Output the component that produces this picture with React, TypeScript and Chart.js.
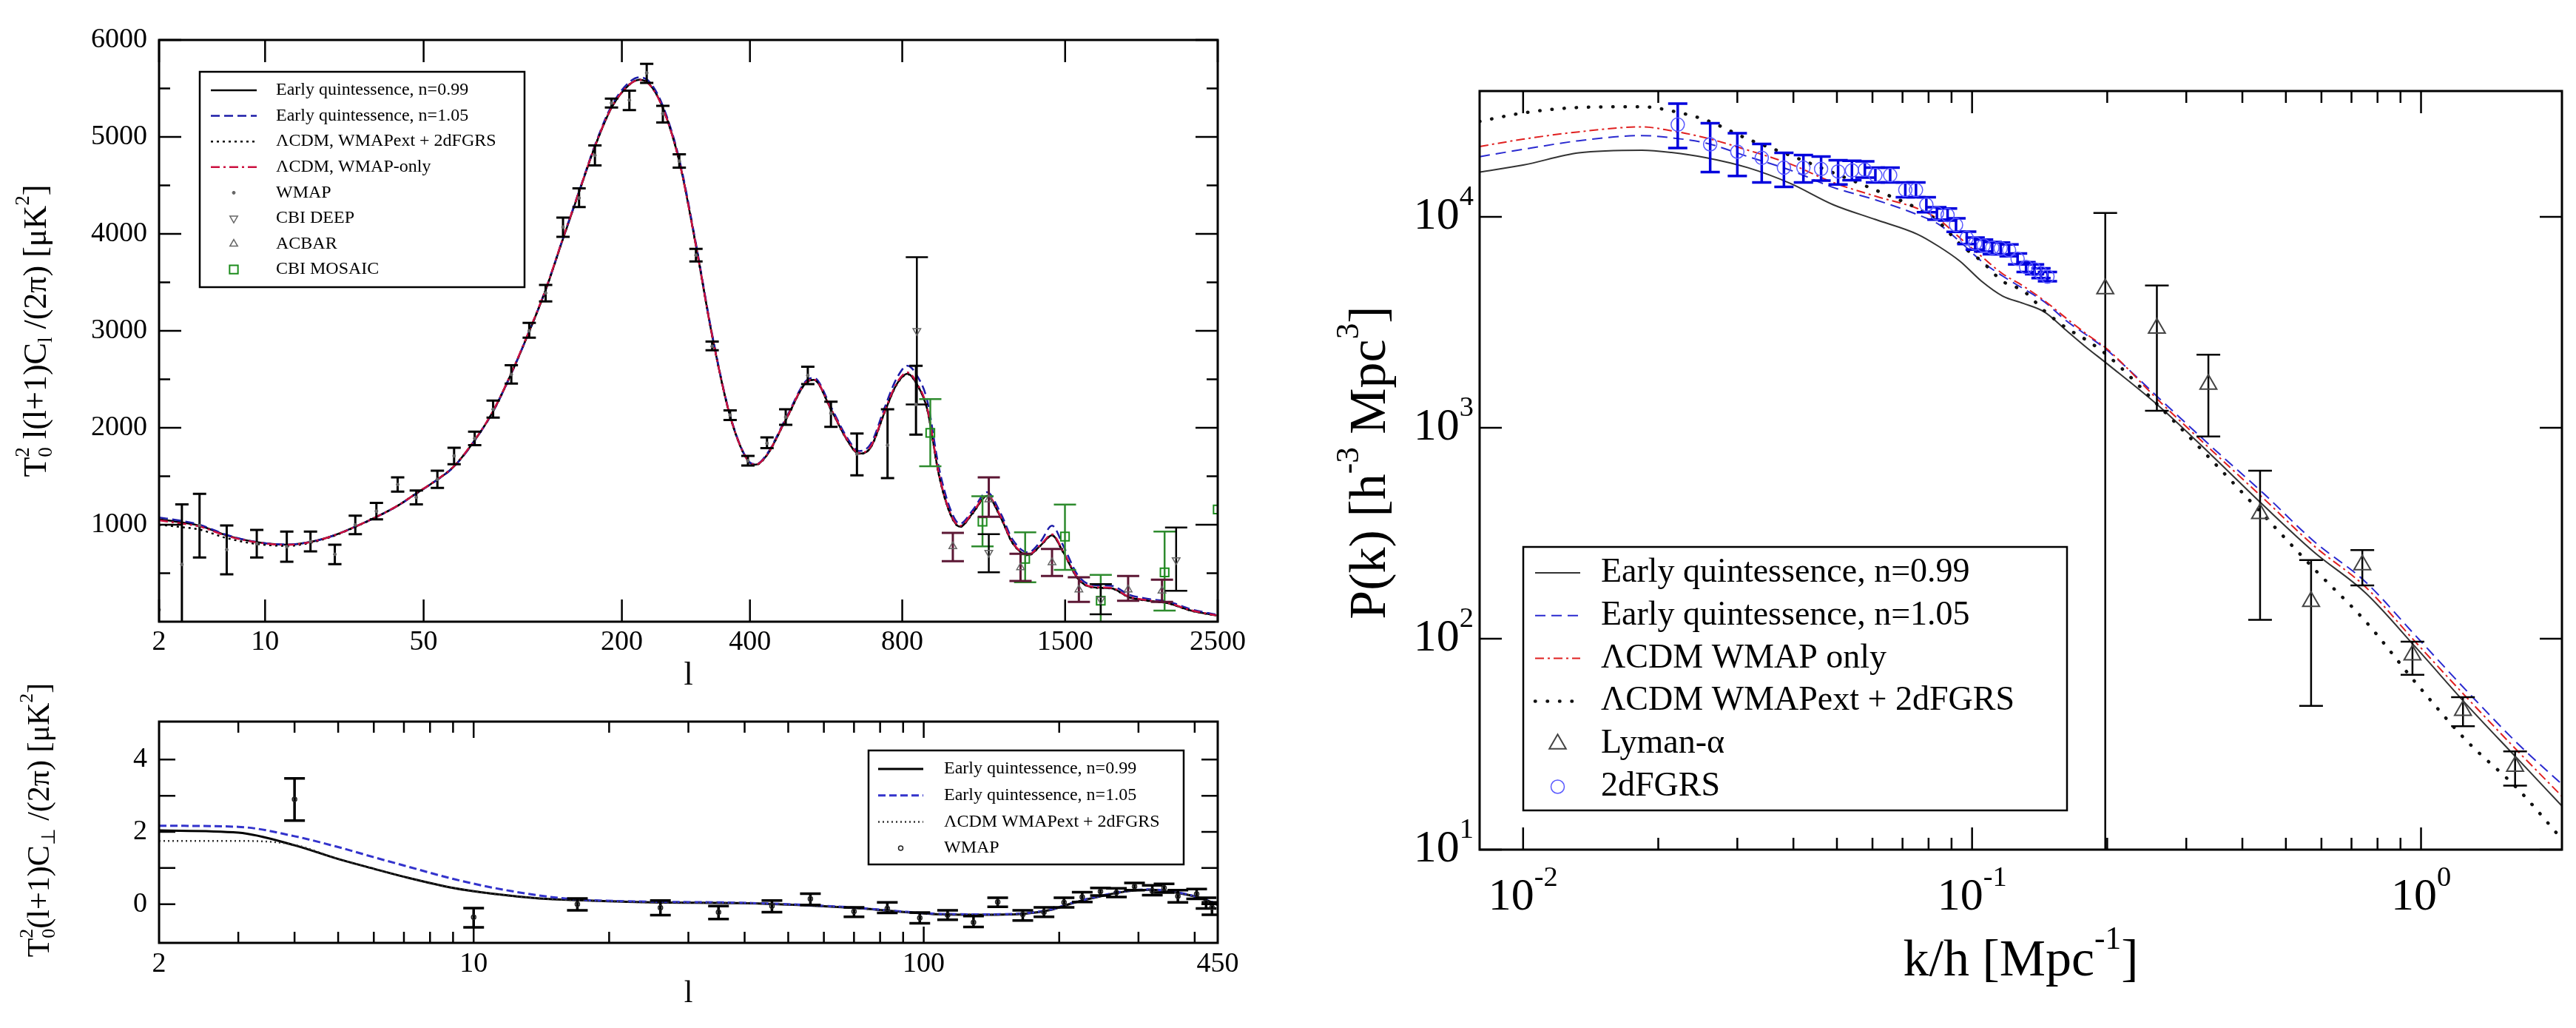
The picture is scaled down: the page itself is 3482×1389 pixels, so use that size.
import { useEffect, useRef } from "react"
import { Chart, Scale, registerables } from "chart.js"

Chart.register(...registerables)

const SERIF = '"Liberation Serif", "Times New Roman", serif'

// ---------- top left: temperature spectrum ----------
const ttTickL = [2, 10, 50, 200, 400, 800, 1500, 2500]
const ttTickY = [1000, 2000, 3000, 4000, 5000, 6000]
const ttMinorY = [500, 1500, 2500, 3500, 4500, 5500]

const modelL = [2, 3, 4, 6, 9, 13, 17, 22, 27, 33, 40, 47, 55, 64, 75, 86, 98, 110, 124, 139, 154, 170, 188, 209, 222, 235, 253, 277, 303, 330, 362, 396, 412, 435, 476, 528, 543, 587, 630, 665, 700, 743, 780, 818, 850, 887, 929, 972, 1011, 1063, 1123, 1185, 1237, 1312, 1374, 1431, 1491, 1569, 1648, 1765, 1871, 1998, 2132, 2297, 2490]
const eq099TT = [1056, 1023, 990, 890, 820, 794, 822, 893, 980, 1081, 1196, 1323, 1450, 1603, 1870, 2170, 2560, 2960, 3420, 3950, 4430, 4900, 5300, 5540, 5590, 5540, 5300, 4750, 3880, 2950, 2120, 1660, 1620, 1720, 2080, 2480, 2494, 2190, 1880, 1733, 1800, 2163, 2440, 2557, 2450, 2190, 1527, 1120, 980, 1120, 1298, 1068, 814, 687, 789, 891, 712, 445, 356, 343, 254, 216, 191, 115, 64]
const eq105TT = [1075, 1040, 1000, 895, 822, 795, 822, 893, 980, 1080, 1195, 1320, 1448, 1600, 1868, 2168, 2560, 2962, 3425, 3958, 4440, 4915, 5320, 5565, 5615, 5565, 5320, 4770, 3900, 2965, 2130, 1665, 1625, 1730, 2095, 2500, 2515, 2215, 1905, 1760, 1835, 2210, 2500, 2640, 2540, 2280, 1600, 1170, 1010, 1150, 1335, 1110, 850, 715, 830, 990, 780, 480, 380, 370, 280, 235, 208, 128, 72]
const lcdmExtTT = [1000, 975, 950, 862, 802, 782, 814, 888, 977, 1080, 1196, 1324, 1451, 1605, 1872, 2172, 2562, 2962, 3422, 3952, 4432, 4902, 5300, 5540, 5590, 5540, 5298, 4748, 3878, 2948, 2118, 1658, 1618, 1718, 2078, 2478, 2492, 2188, 1878, 1731, 1798, 2160, 2436, 2552, 2446, 2186, 1522, 1116, 977, 1116, 1294, 1064, 811, 684, 786, 888, 709, 443, 354, 341, 252, 214, 189, 113, 62]
const lcdmWmapTT = [1045, 1012, 982, 885, 818, 793, 821, 893, 980, 1081, 1197, 1325, 1452, 1606, 1874, 2175, 2566, 2968, 3428, 3958, 4436, 4904, 5302, 5540, 5588, 5536, 5295, 4745, 3878, 2950, 2122, 1662, 1622, 1722, 2083, 2484, 2497, 2195, 1886, 1740, 1808, 2172, 2452, 2570, 2462, 2200, 1535, 1128, 988, 1128, 1306, 1076, 820, 693, 796, 900, 720, 450, 360, 348, 258, 220, 194, 118, 66]

const wmapL = [2, 3, 4, 6, 9, 13, 17, 22, 27, 33, 40, 47, 56, 64, 75, 86, 98, 111, 124, 139, 154, 170, 188, 209, 231, 253, 277, 303, 330, 362, 396, 435, 476, 528, 587, 659, 752, 847]
const wmapTT = [123, 590, 992, 743, 804, 773, 827, 695, 998, 1140, 1415, 1282, 1468, 1710, 1890, 2190, 2550, 3000, 3390, 4070, 4370, 4810, 5350, 5380, 5660, 5240, 4750, 3780, 2840, 2130, 1660, 1840, 2110, 2540, 2150, 1730, 1820, 2240]
const wmapLo = [123, -50, 662, 489, 662, 618, 725, 593, 903, 1056, 1341, 1209, 1379, 1624, 1820, 2105, 2456, 2930, 3303, 3969, 4276, 4706, 5303, 5276, 5557, 5149, 4684, 3715, 2800, 2080, 1610, 1790, 2030, 2450, 2010, 1510, 1480, 1930]
const wmapHi = [123, 1209, 1318, 992, 947, 929, 929, 794, 1094, 1225, 1489, 1353, 1557, 1794, 1960, 2280, 2645, 3083, 3474, 4167, 4469, 4912, 5395, 5478, 5754, 5320, 4820, 3846, 2890, 2180, 1710, 1900, 2190, 2630, 2270, 1940, 2190, 2640]

const cbiL = [850, 1131, 1700, 2189]
const cbiTT = [3000, 712, 229, 636]
const cbiLo = [2240, 509, 76, 318]
const cbiHi = [3760, 903, 387, 972]

const acbarL = [983, 1131, 1275, 1431, 1575, 1867, 2090]
const acbarTT = [776, 1260, 560, 611, 331, 331, 318]
const acbarLo = [624, 1082, 420, 471, 204, 216, 204]
const acbarHi = [916, 1489, 700, 750, 458, 471, 433]

const mosaicL = [898, 1104, 1297, 1499, 1700, 2108, 2500]
const mosaicTT = [1947, 1031, 649, 878, 216, 509, 1158]
const mosaicLo = [1603, 776, 407, 534, -100, 115, 1158]
const mosaicHi = [2295, 1293, 921, 1208, 483, 929, 1158]

// ---------- bottom left: TE spectrum ----------
const teTickL = [2, 10, 100, 450]
const teMajorL = [10, 100]
const teMinorL = [3, 4, 5, 6, 7, 8, 9, 20, 30, 40, 50, 60, 70, 80, 90, 200, 300, 400]
const teTickY = [0, 2, 4]
const teAllY = [0, 1, 2, 3, 4]

const teModelL = [2, 3, 4, 5, 6, 7, 9, 11, 14, 17, 25, 39, 59, 73, 89, 110, 136, 168, 191, 217, 247, 280, 316, 342, 389, 423, 450]
const eq099TE = [2.04, 1.98, 1.63, 1.25, 0.98, 0.76, 0.45, 0.29, 0.16, 0.11, 0.05, 0.03, -0.05, -0.12, -0.21, -0.28, -0.29, -0.26, -0.16, 0.05, 0.22, 0.35, 0.4, 0.37, 0.25, 0.12, -0.02]
const eq105TE = [2.17, 2.14, 1.88, 1.58, 1.3, 1.07, 0.7, 0.46, 0.24, 0.13, 0.07, 0.04, -0.04, -0.11, -0.2, -0.27, -0.28, -0.25, -0.15, 0.06, 0.23, 0.36, 0.41, 0.38, 0.26, 0.13, -0.01]
const lcdmExtTE = [1.75, 1.75, 1.64, 1.25, 0.98, 0.76, 0.45, 0.29, 0.16, 0.11, 0.05, 0.03, -0.05, -0.12, -0.21, -0.28, -0.29, -0.26, -0.16, 0.05, 0.22, 0.35, 0.4, 0.37, 0.25, 0.12, -0.02]

const wmapTeL = [4, 10, 17, 26, 35, 46, 56, 70, 83, 98, 113, 129, 146, 166, 185, 205, 225, 247, 268, 294, 322, 342, 367, 404, 424, 437]
const wmapTE = [2.9, -0.36, 0, -0.1, -0.22, -0.05, 0.15, -0.2, -0.12, -0.38, -0.3, -0.5, 0.06, -0.28, -0.22, 0.05, 0.2, 0.35, 0.32, 0.49, 0.37, 0.45, 0.22, 0.28, 0.05, -0.09]
const wmapTeLo = [2.31, -0.64, -0.17, -0.3, -0.41, -0.22, -0.02, -0.35, -0.24, -0.53, -0.43, -0.63, -0.07, -0.45, -0.35, -0.09, 0.06, 0.24, 0.2, 0.39, 0.25, 0.32, 0.05, 0.15, -0.12, -0.29]
const wmapTeHi = [3.48, -0.11, 0.16, 0.1, -0.05, 0.1, 0.29, -0.09, 0.05, -0.23, -0.17, -0.33, 0.18, -0.17, -0.09, 0.18, 0.33, 0.45, 0.44, 0.59, 0.52, 0.56, 0.39, 0.42, 0.18, 0.05]

// ---------- right: matter power spectrum ----------
const pkMajorK = [0.01, 0.1, 1]
const pkMinorK = [0.02, 0.03, 0.04, 0.05, 0.06, 0.07, 0.08, 0.09, 0.2, 0.3, 0.4, 0.5, 0.6, 0.7, 0.8, 0.9]
const pkKExp = ["-2", "-1", "0"]
const pkTickP = [10, 100, 1000, 10000]
const pkPExp = ["1", "2", "3", "4"]

const pkK = [0.008, 0.01, 0.0133, 0.0184, 0.0214, 0.0255, 0.0317, 0.0394, 0.049, 0.0609, 0.0756, 0.0843, 0.094, 0.105, 0.117, 0.13, 0.145, 0.162, 0.18, 0.2, 0.261, 0.34, 0.446, 0.577, 0.752, 0.974, 1.26, 1.65, 2.06]
const eq099P = [16300, 17600, 20100, 20700, 20200, 19100, 17100, 14400, 11430, 9720, 8270, 7240, 6160, 4950, 4210, 3890, 3540, 2900, 2400, 2010, 1265, 748, 428, 258, 165, 90.8, 49, 26.6, 16.1]
const eq105P = [19300, 20900, 22960, 24300, 23700, 22400, 19300, 16640, 13800, 12050, 10240, 9220, 7630, 6160, 5240, 4570, 3950, 3220, 2750, 2330, 1380, 820, 488, 290, 186, 103, 57, 31.5, 20.4]
const lcdmWmapP = [21550, 23350, 25300, 26700, 25600, 23700, 20700, 17800, 14560, 12540, 10950, 9720, 7940, 6490, 5370, 4700, 4000, 3310, 2780, 2360, 1340, 790, 462, 276, 176, 96, 53, 29, 17.9]
const lcdmExtP = [28360, 31100, 33000, 33300, 31800, 28800, 23350, 19550, 16200, 13400, 10950, 9450, 7420, 6160, 4950, 4460, 3580, 2980, 2600, 2210, 1265, 710, 385, 215, 121, 61.7, 33, 19.2, 11.2]

const lyaK = [0.198, 0.258, 0.336, 0.438, 0.569, 0.74, 0.957, 1.24, 1.62]
const lyaP = [4560, 2965, 1607, 392, 150, 224, 83.8, 45.7, 24.8]
const lyaLo = [3, 1205, 910, 123, 48, 179, 67.5, 38.5, 20.1]
const lyaHi = [10440, 4730, 2220, 626, 236, 263, 96.8, 52.8, 29.2]

const dfK = [0.0221, 0.0261, 0.03, 0.034, 0.0381, 0.0421, 0.0461, 0.0503, 0.054, 0.0577, 0.0609, 0.0657, 0.071, 0.075, 0.0791, 0.0835, 0.0882, 0.0921, 0.0973, 0.1016, 0.1061, 0.1109, 0.1158, 0.1209, 0.1263, 0.1319, 0.1378, 0.1424, 0.1472]
const dfP = [27390, 22080, 20360, 19040, 17100, 17100, 16870, 16420, 16600, 16730, 15780, 15780, 13420, 13420, 11420, 10390, 10200, 9160, 7940, 7480, 7310, 7130, 7080, 6950, 6320, 5790, 5640, 5410, 5210]
const dfLo = [21200, 16300, 15640, 14550, 13870, 14550, 14860, 14230, 14930, 15350, 14550, 14550, 12380, 12380, 10530, 9710, 9600, 8500, 7430, 7000, 6850, 6650, 6650, 6500, 5950, 5480, 5350, 5130, 4950]
const dfHi = [34440, 27770, 24920, 22180, 20100, 19640, 19310, 18540, 18450, 18320, 17100, 17100, 14550, 14550, 12380, 11110, 10950, 9840, 8510, 7980, 7800, 7600, 7550, 7400, 6700, 6100, 5950, 5700, 5480]

// x axis of the TT panel is spaced as l^(1/4)
class QuarticRootScale extends Scale {
  static id = "quarticRoot"
  static defaults = {}
  declare _lo: number
  declare _span: number

  determineDataLimits() {
    this.min = (this.options as any).min
    this.max = (this.options as any).max
  }
  buildTicks() {
    return ttTickL.map((value) => ({ value }))
  }
  getLabelForValue(value: number) {
    return String(value)
  }
  configure() {
    super.configure()
    this._lo = Math.pow(this.min, 0.25)
    this._span = Math.pow(this.max, 0.25) - this._lo
  }
  getPixelForValue(value: number) {
    return this.getPixelForDecimal((Math.pow(value, 0.25) - this._lo) / this._span)
  }
  getValueForPixel(pixel: number) {
    return Math.pow(this._lo + this.getDecimalForPixel(pixel) * this._span, 4)
  }
}
Chart.register(QuarticRootScale)

type Seg = { t: string; sub?: string; sup?: string }

function richWidth(ctx: CanvasRenderingContext2D, segs: Seg[], size: number) {
  let w = 0
  for (const s of segs) {
    ctx.font = `${size}px ${SERIF}`
    w += ctx.measureText(s.t).width
    if (s.sub || s.sup) {
      ctx.font = `${size * 0.62}px ${SERIF}`
      w += Math.max(s.sub ? ctx.measureText(s.sub).width : 0, s.sup ? ctx.measureText(s.sup).width : 0)
    }
  }
  return w
}

function drawRich(ctx: CanvasRenderingContext2D, segs: Seg[], x: number, y: number, size: number, align: string, angle = 0) {
  ctx.save()
  ctx.translate(x, y)
  if (angle) ctx.rotate(angle)
  const w = richWidth(ctx, segs, size)
  let cx = align === "left" ? 0 : align === "center" ? -w / 2 : -w
  ctx.textBaseline = "middle"
  ctx.textAlign = "left"
  ctx.fillStyle = "#000"
  for (const s of segs) {
    ctx.font = `${size}px ${SERIF}`
    ctx.fillText(s.t, cx, 0)
    cx += ctx.measureText(s.t).width
    if (s.sub || s.sup) {
      ctx.font = `${size * 0.62}px ${SERIF}`
      let adv = 0
      if (s.sup) {
        ctx.fillText(s.sup, cx, -size * 0.42)
        adv = ctx.measureText(s.sup).width
      }
      if (s.sub) {
        ctx.fillText(s.sub, cx, size * 0.3)
        adv = Math.max(adv, ctx.measureText(s.sub).width)
      }
      cx += adv
    }
  }
  ctx.restore()
}

function drawMarker(ctx: CanvasRenderingContext2D, style: string, rotation: number, r: number, x: number, y: number) {
  ctx.beginPath()
  if (style === "circle") {
    ctx.arc(x, y, r, 0, Math.PI * 2)
  } else if (style === "rect") {
    const h = r * Math.SQRT1_2
    ctx.rect(x - h, y - h, 2 * h, 2 * h)
  } else {
    let a = ((rotation || 0) * Math.PI) / 180
    ctx.moveTo(x + Math.sin(a) * r, y - Math.cos(a) * r)
    a += (2 * Math.PI) / 3
    ctx.lineTo(x + Math.sin(a) * r, y - Math.cos(a) * r)
    a += (2 * Math.PI) / 3
    ctx.lineTo(x + Math.sin(a) * r, y - Math.cos(a) * r)
    ctx.closePath()
  }
}

// error bars are drawn just before the markers of their dataset
const errorBars = {
  id: "errorBars",
  beforeDatasetDraw(chart: any, args: any) {
    const ds = chart.data.datasets[args.index]
    if (!ds.errLo) return
    const { ctx, chartArea: a } = chart
    const xs = chart.scales.x
    const ys = chart.scales.y
    ctx.save()
    ctx.beginPath()
    ctx.rect(a.left, a.top, a.right - a.left, a.bottom - a.top)
    ctx.clip()
    ctx.strokeStyle = ds.errColor
    ctx.lineWidth = ds.errWidth
    ds.data.forEach((p: any, i: number) => {
      const lo = ds.errLo[i]
      const hi = ds.errHi[i]
      if (lo === hi) return
      const px = xs.getPixelForValue(p.x)
      const y1 = ys.getPixelForValue(lo)
      const y2 = ys.getPixelForValue(hi)
      ctx.beginPath()
      ctx.moveTo(px, y1)
      ctx.lineTo(px, y2)
      ctx.moveTo(px - ds.cap, y1)
      ctx.lineTo(px + ds.cap, y1)
      ctx.moveTo(px - ds.cap, y2)
      ctx.lineTo(px + ds.cap, y2)
      ctx.stroke()
    })
    ctx.restore()
  },
}

interface Decor {
  xMajor: number[]
  xMinor: number[]
  yMajor: number[]
  yMinor: number[]
  majorLen: number
  minorLen: number
  frame: number
  xLabelVals: number[]
  xLabels: Seg[][]
  yLabelVals: number[]
  yLabels: Seg[][]
  tickSize: number
  xLabelDy: number
  yLabelDx: number
  xTitle: Seg[]
  xTitleDy: number
  yTitle: Seg[]
  yTitleX: number
  yTitleY: number
  titleSize: number
  legend: { x: number; y: number; w: number; h: number; row0: number; rowH: number; s0: number; s1: number; tx: number; size: number }
}

function makeDecor(d: Decor) {
  return {
    id: "decor",
    afterDraw(chart: any) {
      const { ctx, chartArea: a } = chart
      const xs = chart.scales.x
      const ys = chart.scales.y
      ctx.save()
      ctx.strokeStyle = "#000"
      ctx.lineWidth = 2.5
      const xTicks = (vals: number[], len: number) =>
        vals.forEach((v) => {
          const px = xs.getPixelForValue(v)
          ctx.beginPath()
          ctx.moveTo(px, a.bottom)
          ctx.lineTo(px, a.bottom - len)
          ctx.moveTo(px, a.top)
          ctx.lineTo(px, a.top + len)
          ctx.stroke()
        })
      const yTicks = (vals: number[], len: number) =>
        vals.forEach((v) => {
          const py = ys.getPixelForValue(v)
          ctx.beginPath()
          ctx.moveTo(a.left, py)
          ctx.lineTo(a.left + len, py)
          ctx.moveTo(a.right, py)
          ctx.lineTo(a.right - len, py)
          ctx.stroke()
        })
      xTicks(d.xMajor, d.majorLen)
      xTicks(d.xMinor, d.minorLen)
      yTicks(d.yMajor, d.majorLen)
      yTicks(d.yMinor, d.minorLen)
      ctx.lineWidth = d.frame
      ctx.strokeRect(a.left, a.top, a.right - a.left, a.bottom - a.top)

      d.xLabelVals.forEach((v, i) => drawRich(ctx, d.xLabels[i], xs.getPixelForValue(v), a.bottom + d.xLabelDy, d.tickSize, "center"))
      d.yLabelVals.forEach((v, i) => drawRich(ctx, d.yLabels[i], a.left - d.yLabelDx, ys.getPixelForValue(v), d.tickSize, "right"))
      drawRich(ctx, d.xTitle, (a.left + a.right) / 2, a.bottom + d.xTitleDy, d.titleSize, "center")
      drawRich(ctx, d.yTitle, d.yTitleX, d.yTitleY, d.titleSize, "center", -Math.PI / 2)

      // legend box
      const lg = d.legend
      ctx.fillStyle = "#fff"
      ctx.fillRect(lg.x, lg.y, lg.w, lg.h)
      ctx.lineWidth = 2.5
      ctx.strokeStyle = "#000"
      ctx.strokeRect(lg.x, lg.y, lg.w, lg.h)
      chart.data.datasets.forEach((ds: any, i: number) => {
        const cy = lg.y + lg.row0 + i * lg.rowH
        ctx.save()
        if (ds.showLine !== false) {
          ctx.strokeStyle = ds.borderColor
          ctx.lineWidth = ds.borderWidth
          ctx.setLineDash(ds.borderDash || [])
          ctx.lineCap = ds.borderCapStyle || "butt"
          ctx.beginPath()
          ctx.moveTo(lg.x + lg.s0, cy)
          ctx.lineTo(lg.x + lg.s1, cy)
          ctx.stroke()
        } else {
          ctx.strokeStyle = ds.pointBorderColor
          ctx.fillStyle = ds.pointBackgroundColor
          ctx.lineWidth = ds.pointBorderWidth
          drawMarker(ctx, ds.pointStyle, ds.pointRotation || 0, ds.pointRadius, lg.x + (lg.s0 + lg.s1) / 2, cy)
          ctx.fill()
          ctx.stroke()
        }
        ctx.restore()
        drawRich(ctx, [{ t: ds.label }], lg.x + lg.tx, cy, lg.size, "left")
      })
      ctx.restore()
    },
  }
}

function curve(label: string, xs: number[], ys: number[], color: string, width: number, dash: number[], order: number, extra: any = {}) {
  return {
    label,
    data: xs.map((x, i) => ({ x, y: ys[i] })),
    borderColor: color,
    borderWidth: width,
    borderDash: dash,
    pointRadius: 0,
    fill: false,
    cubicInterpolationMode: "monotone",
    order,
    ...extra,
  }
}

function marks(label: string, xs: number[], ys: number[], lo: number[], hi: number[], m: any) {
  return {
    label,
    data: xs.map((x, i) => ({ x, y: ys[i] })),
    showLine: false,
    pointStyle: m.style,
    pointRotation: m.rotation || 0,
    pointRadius: m.r,
    pointBorderColor: m.color,
    pointBackgroundColor: m.fill || "rgba(0,0,0,0)",
    pointBorderWidth: m.lw,
    order: 0,
    errLo: lo,
    errHi: hi,
    errColor: m.bar,
    errWidth: m.barW,
    cap: m.cap,
  }
}

function baseOptions(x: any, y: any, padding: any) {
  return {
    animation: false,
    responsive: false,
    events: [],
    layout: { padding },
    plugins: { legend: { display: false }, tooltip: { enabled: false } },
    scales: { x: { ...x, display: false }, y: { ...y, display: false } },
  }
}

const segs = (vals: number[]) => vals.map((v) => [{ t: String(v) }])

function ttConfig(): any {
  return {
    type: "line",
    data: {
      datasets: [
        curve("Early quintessence, n=0.99", modelL, eq099TT, "#000000", 2.5, [], 13),
        curve("Early quintessence, n=1.05", modelL, eq105TT, "#1c1ca8", 2.5, [12, 6], 12),
        curve("ΛCDM, WMAPext + 2dFGRS", modelL, lcdmExtTT, "#000000", 2.5, [3, 5], 11),
        curve("ΛCDM, WMAP-only", modelL, lcdmWmapTT, "#cc1040", 2.5, [12, 5, 3, 5], 10),
        marks("WMAP", wmapL, wmapTT, wmapLo, wmapHi, { style: "circle", r: 2, color: "#666", fill: "#666", lw: 1, bar: "#000", barW: 3, cap: 9 }),
        marks("CBI DEEP", cbiL, cbiTT, cbiLo, cbiHi, { style: "triangle", rotation: 180, r: 6, color: "#666", lw: 1.5, bar: "#000", barW: 2.5, cap: 15 }),
        marks("ACBAR", acbarL, acbarTT, acbarLo, acbarHi, { style: "triangle", r: 6, color: "#666", lw: 1.5, bar: "#5c1734", barW: 3, cap: 15 }),
        marks("CBI MOSAIC", mosaicL, mosaicTT, mosaicLo, mosaicHi, { style: "rect", r: 8, color: "#1c8c1c", lw: 2, bar: "#2e8b2e", barW: 2.5, cap: 15 }),
      ],
    },
    options: baseOptions({ type: "quarticRoot", min: 2, max: 2500 }, { type: "linear", min: 0, max: 6000 }, { left: 215, top: 54, right: 94, bottom: 100 }),
    plugins: [
      errorBars,
      makeDecor({
        xMajor: ttTickL,
        xMinor: [],
        yMajor: ttTickY,
        yMinor: ttMinorY,
        majorLen: 30,
        minorLen: 15,
        frame: 3,
        xLabelVals: ttTickL,
        xLabels: segs(ttTickL),
        yLabelVals: ttTickY,
        yLabels: segs(ttTickY),
        tickSize: 38,
        xLabelDy: 28,
        yLabelDx: 16,
        xTitle: [{ t: "l" }],
        xTitleDy: 73,
        yTitle: [{ t: "T", sub: "0", sup: "2" }, { t: " l(l+1)C", sub: "l" }, { t: " /(2π) [μK", sup: "2" }, { t: "]" }],
        yTitleX: 50,
        yTitleY: 447,
        titleSize: 44,
        legend: { x: 270, y: 97, w: 439, h: 291, row0: 25, rowH: 34.6, s0: 15, s1: 77, tx: 103, size: 24 },
      }),
    ],
  }
}

function teConfig(): any {
  return {
    type: "line",
    data: {
      datasets: [
        curve("Early quintessence, n=0.99", teModelL, eq099TE, "#000000", 3, [], 12),
        curve("Early quintessence, n=1.05", teModelL, eq105TE, "#3333cc", 3, [10, 5], 11),
        curve("ΛCDM WMAPext + 2dFGRS", teModelL, lcdmExtTE, "#333333", 2.5, [2, 4], 10),
        marks("WMAP", wmapTeL, wmapTE, wmapTeLo, wmapTeHi, { style: "circle", r: 3, color: "#222", lw: 1.5, bar: "#000", barW: 3.5, cap: 14 }),
      ],
    },
    options: baseOptions({ type: "logarithmic", min: 2, max: 450 }, { type: "linear", min: -1.07, max: 5.05 }, { left: 215, top: 115, right: 94, bottom: 115 }),
    plugins: [
      errorBars,
      makeDecor({
        xMajor: teMajorL,
        xMinor: teMinorL,
        yMajor: teAllY,
        yMinor: [],
        majorLen: 22,
        minorLen: 15,
        frame: 3,
        xLabelVals: teTickL,
        xLabels: segs(teTickL),
        yLabelVals: teTickY,
        yLabels: segs(teTickY),
        tickSize: 38,
        xLabelDy: 29,
        yLabelDx: 16,
        xTitle: [{ t: "l" }],
        xTitleDy: 69,
        yTitle: [{ t: "T", sub: "0", sup: "2" }, { t: "(l+1)C", sub: "⊥" }, { t: " /(2π) [μK", sup: "2" }, { t: "]" }],
        yTitleX: 55,
        yTitleY: 248,
        titleSize: 42,
        legend: { x: 1174, y: 154, w: 426, h: 154, row0: 25, rowH: 35.7, s0: 13, s1: 74, tx: 102, size: 24 },
      }),
    ],
  }
}

function pkConfig(): any {
  return {
    type: "line",
    data: {
      datasets: [
        curve("Early quintessence, n=0.99", pkK, eq099P, "#333333", 2, [], 13),
        curve("Early quintessence, n=1.05", pkK, eq105P, "#2a2ad0", 2, [14, 8], 12),
        curve("ΛCDM WMAP only", pkK, lcdmWmapP, "#e02020", 2, [12, 5, 3, 5], 11),
        curve("ΛCDM WMAPext + 2dFGRS", pkK, lcdmExtP, "#111111", 4.5, [0.5, 16], 10, { borderCapStyle: "round" }),
        marks("Lyman-α", lyaK, lyaP, lyaLo, lyaHi, { style: "triangle", r: 13, color: "#444", lw: 2, bar: "#000", barW: 2.5, cap: 16 }),
        marks("2dFGRS", dfK, dfP, dfLo, dfHi, { style: "circle", r: 9, color: "#5a5aff", lw: 1.5, bar: "#0000dd", barW: 3.5, cap: 13 }),
      ],
    },
    options: baseOptions({ type: "logarithmic", min: 0.008, max: 2.06 }, { type: "logarithmic", min: 10, max: 39500 }, { left: 260, top: 123, right: 19, bottom: 241 }),
    plugins: [
      errorBars,
      makeDecor({
        xMajor: pkMajorK,
        xMinor: pkMinorK,
        yMajor: pkTickP,
        yMinor: [],
        majorLen: 30,
        minorLen: 16,
        frame: 3,
        xLabelVals: pkMajorK,
        xLabels: pkKExp.map((e) => [{ t: "10", sup: e }]),
        yLabelVals: pkTickP,
        yLabels: pkPExp.map((e) => [{ t: "10", sup: e }]),
        tickSize: 62,
        xLabelDy: 65,
        yLabelDx: 8,
        xTitle: [{ t: "k/h [Mpc", sup: "-1" }, { t: "]" }],
        xTitleDy: 152,
        yTitle: [{ t: "P(k) [h", sup: "-3" }, { t: " Mpc", sup: "3" }, { t: "]" }],
        yTitleX: 114,
        yTitleY: 625,
        titleSize: 70,
        legend: { x: 319, y: 739, w: 735, h: 356, row0: 35, rowH: 57.8, s0: 16, s1: 77, tx: 105, size: 46 },
      }),
    ],
  }
}

export default function App() {
  const ttRef = useRef<HTMLCanvasElement>(null)
  const teRef = useRef<HTMLCanvasElement>(null)
  const pkRef = useRef<HTMLCanvasElement>(null)

  useEffect(() => {
    const charts: Chart[] = []
    if (ttRef.current) charts.push(new Chart(ttRef.current, ttConfig()))
    if (teRef.current) charts.push(new Chart(teRef.current, teConfig()))
    if (pkRef.current) charts.push(new Chart(pkRef.current, pkConfig()))
    return () => charts.forEach((c) => c.destroy())
  }, [])

  return (
    <div style={{ position: "absolute", left: 0, top: 0, width: 3482, height: 1389, background: "#fff", overflow: "hidden" }}>
      <canvas ref={ttRef} width={1740} height={940} style={{ position: "absolute", left: 0, top: 0 }} />
      <canvas ref={teRef} width={1740} height={529} style={{ position: "absolute", left: 0, top: 860 }} />
      <canvas ref={pkRef} width={1742} height={1389} style={{ position: "absolute", left: 1740, top: 0 }} />
    </div>
  )
}
